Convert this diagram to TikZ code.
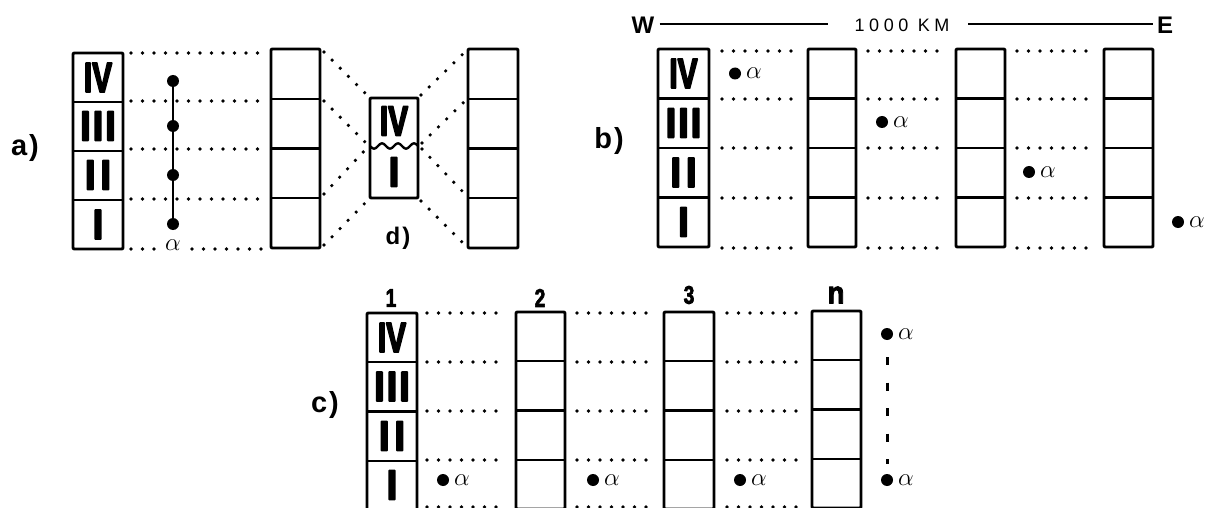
\documentclass[tikz,border=0pt]{standalone}
\usepackage{fontspec}
\setmainfont{Liberation Sans}
\newfontfamily\numfont[BoldFeatures={FakeBold=5}]{Liberation Sans}
\newfontfamily\hdfont[BoldFeatures={FakeBold=3}]{Liberation Sans}
\newfontfamily\kmfont[LetterSpace=25]{Liberation Sans}
\newcommand\rn[2]{\scalebox{#1}[1.9]{#2}}
\newcommand\strat[4]{%
  \draw[box] (#1,#3) rectangle (#2,#4);
  \foreach \k in {1,2,3} \draw[div] (#1,{#3+\k*(#4-#3)/4}) -- (#2,{#3+\k*(#4-#3)/4});}
\begin{document}
\begin{tikzpicture}[x=1pt,y=-1pt,line join=round,
  box/.style={line width=2.9pt,rounded corners=1pt},
  div/.style={line width=2.4pt},
  dots/.style={line width=3.6pt,line cap=round,dash pattern=on 0pt off 11.5pt},
  num/.style={font=\numfont\bfseries\fontsize{22}{22}\selectfont,inner sep=0pt},
  hd/.style={font=\hdfont\bfseries\fontsize{16}{16}\selectfont,inner sep=0pt},
  lab/.style={font=\bfseries\fontsize{29}{29}\selectfont,inner sep=0pt},
  alab/.style={font=\fontsize{28}{28}\selectfont,inner sep=0pt,anchor=west},
  pt/.style={circle,fill,inner sep=0pt,minimum size=12pt}]
\useasboundingbox (0,0) rectangle (1208,508);
\clip (0,0) rectangle (1208,508);

% ---------------- panel a ----------------
\node[lab] (la) at (25,148) {a\kern2pt)};
\strat{73}{123}{53}{249}
\node[num] (a4) at (98,77.5) {\rn{1.35}{IV}};
\node[num] (a3) at (98,126) {\rn{1.7}{I\kern1.3pt I\kern1.3pt I}};
\node[num] (a2) at (98,175) {\rn{1.7}{I\kern3pt I}};
\node[num] (a1) at (98,224.5) {\rn{1.7}{I}};
\strat{271}{320}{49}{248}
\foreach \y in {53,101,149,199} \draw[dots] (131,\y) -- (264,\y);
\draw[dots] (131,249) -- (154,249);
\draw[dots] (192,249) -- (264,249);
\node[pt] (ad4) at (173,81) {};
\node[pt] (ad3) at (173,126) {};
\node[pt] (ad2) at (173,175) {};
\node[pt] (ad1) at (173,224) {};
\draw[line width=2.8pt] (ad4.center) -- (ad1.center);
\node[font=\fontsize{28}{28}\selectfont,inner sep=0pt] (aal) at (173,245) {$\alpha$};

% panel d
\draw[box] (370,98) rectangle (418,198);
\draw[line width=2.4pt] plot[domain=0:48,samples=80] ({370+\x},{146+2.6*sin(22.5*\x)});
\node[num] (d4) at (394,121) {\rn{1.35}{IV}};
\node[num] (d1) at (394,172) {\rn{1.7}{I}};
\node[lab,font=\bfseries\fontsize{24}{24}\selectfont] (ld) at (398,238) {d\kern2pt)};
\strat{468}{518}{49}{248}
\draw[dots] (324,52) -- (367,95);
\draw[dots] (324,101) -- (366,143);
\draw[dots] (324,194) -- (366,149);
\draw[dots] (324,245) -- (367,201);
\draw[dots] (421,95) -- (465,52);
\draw[dots] (422,143) -- (465,101);
\draw[dots] (422,149) -- (465,194);
\draw[dots] (421,201) -- (465,245);

% ---------------- panel b ----------------
\node[lab] (lb) at (609,141) {b\kern2pt)};
\node[lab,font=\bfseries\fontsize{24}{24}\selectfont] (W) at (643,25) {W};
\node[font=\kmfont\fontsize{18}{18}\selectfont,inner sep=0pt] (km) at (902,25) {1000 KM};
\node[lab,font=\bfseries\fontsize{24}{24}\selectfont] (E) at (1165,25) {E};
\draw[line width=1.8pt] ([xshift=5pt]W.east |- 0,24) -- (828,24);
\draw[line width=1.8pt] (968,24) -- ([xshift=-4pt]E.west |- 0,24);
\strat{658}{709}{49}{247}
\strat{808}{856}{49}{247}
\strat{956}{1005}{49}{247}
\strat{1104}{1153}{49}{247}
\node[num] (b4) at (683.5,73.5) {\rn{1.35}{IV}};
\node[num] (b3) at (683.5,123) {\rn{1.7}{I\kern1.3pt I\kern1.3pt I}};
\node[num] (b2) at (683.5,172.5) {\rn{1.7}{I\kern3pt I}};
\node[num] (b1) at (683.5,222) {\rn{1.7}{I}};
\foreach \y in {51,99,148,198,248} {
  \draw[dots] (722,\y) -- (795,\y);
  \draw[dots] (868,\y) -- (946,\y);
  \draw[dots] (1017,\y) -- (1093,\y);
}
\node[pt] (bp1) at (735,73.5) {};  \node[alab] at ([xshift=11pt]bp1.center) {$\alpha$};
\node[pt] (bp2) at (882,122) {}; \node[alab] at ([xshift=11pt]bp2.center) {$\alpha$};
\node[pt] (bp3) at (1029,172) {};\node[alab] at ([xshift=11pt]bp3.center) {$\alpha$};
\node[pt] (bp4) at (1178,222) {};\node[alab] at ([xshift=11pt]bp4.center) {$\alpha$};

% ---------------- panel c ----------------
\node[lab] (lc) at (325,405) {c\kern2pt)};
\node[hd] (h1) at (391,298) {\scalebox{1.2}[1.6]{1}};
\node[hd] (h2) at (540,298) {\scalebox{1.2}[1.6]{2}};
\node[hd] (h3) at (689,295) {\scalebox{1.2}[1.6]{3}};
\node[hd,font=\hdfont\bfseries\fontsize{24}{24}\selectfont] (hn) at (836,295) {\scalebox{1.15}[1.3]{n}};
\strat{367}{417}{313}{510}
\strat{516}{565}{312}{509}
\strat{664}{714}{312}{509}
\strat{812}{861}{311}{508}
\node[num] (c4) at (392,337.5) {\rn{1.35}{IV}};
\node[num] (c3) at (392,386.5) {\rn{1.7}{I\kern1.3pt I\kern1.3pt I}};
\node[num] (c2) at (392,436) {\rn{1.7}{I\kern3pt I}};
\node[num] (c1) at (392,485) {\rn{1.7}{I}};
\foreach \y in {313,362,411,460,507} {
  \draw[dots] (427,\y) -- (507,\y);
  \draw[dots] (577,\y) -- (652,\y);
  \draw[dots] (727,\y) -- (805,\y);
}
\node[pt] (cp1) at (443,480) {}; \node[alab] at ([xshift=11pt]cp1.center) {$\alpha$};
\node[pt] (cp2) at (593,480) {}; \node[alab] at ([xshift=11pt]cp2.center) {$\alpha$};
\node[pt] (cp3) at (740,480) {}; \node[alab] at ([xshift=11pt]cp3.center) {$\alpha$};
\node[pt] (cp4) at (887,480) {}; \node[alab] at ([xshift=11pt]cp4.center) {$\alpha$};
\node[pt] (cpt) at (887,334) {}; \node[alab] at ([xshift=11pt]cpt.center) {$\alpha$};
\draw[line width=3pt,dash pattern=on 8pt off 17.5pt] ([yshift=-23pt]cpt.center) -- ([yshift=16pt]cp4.center);
\end{tikzpicture}
\end{document}
